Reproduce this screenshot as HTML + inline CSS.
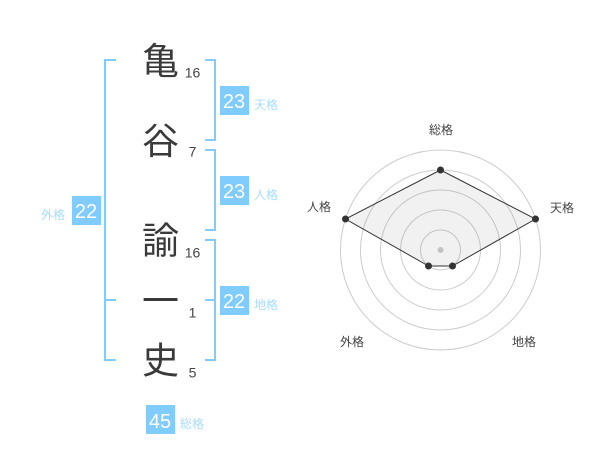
<!DOCTYPE html>
<html lang="ja"><head><meta charset="utf-8"><style>
html,body{margin:0;padding:0;background:#fff}
svg{display:block}
text{font-family:"Liberation Sans","Noto Sans CJK JP",sans-serif}
.k{font-size:37px;fill:#3a3a3a;text-anchor:middle}
.n{font-size:14px;fill:#444;text-anchor:middle}
.b{font-size:20px;fill:#fff;text-anchor:middle}
.l{font-size:12px;fill:#a8dcff;text-anchor:start}
.r{font-size:12px;fill:#444;text-anchor:middle}
</style></head><body>
<svg width="600" height="470" viewBox="0 0 600 470" xmlns="http://www.w3.org/2000/svg">
<g fill="none" stroke="#80ccff" stroke-width="2">
<path d="M116 60H105V360H116M105 300H116"/>
<path d="M205 60H215V140H205"/>
<path d="M205 150H215V230H205"/>
<path d="M205 240H215V360H205M205 300H215"/>
</g>
<text class="k" x="160.500" y="74">亀</text>
<text class="k" x="160.500" y="154">谷</text>
<text class="k" x="160.500" y="253.500">諭</text>
<text class="k" x="160.500" y="314">一</text>
<text class="k" x="160.500" y="373.500">史</text>
<text class="n" x="192.500" y="77.500">16</text>
<text class="n" x="192.500" y="156.500">7</text>
<text class="n" x="192.500" y="257.500">16</text>
<text class="n" x="192.500" y="317.500">1</text>
<text class="n" x="192.500" y="377.500">5</text>
<g fill="#80ccff">
<rect x="220" y="86" width="29" height="29"/>
<rect x="220" y="176" width="29" height="29"/>
<rect x="72" y="196" width="29" height="29"/>
<rect x="220" y="286" width="29" height="29"/>
<rect x="146" y="405" width="29" height="29"/>
</g>
<text class="b" x="234" y="108">23</text>
<text class="b" x="234" y="198">23</text>
<text class="b" x="86" y="218">22</text>
<text class="b" x="234" y="308">22</text>
<text class="b" x="160" y="428">45</text>
<text class="l" x="254" y="109">天格</text>
<text class="l" x="254" y="199">人格</text>
<text class="l" x="41" y="219">外格</text>
<text class="l" x="254" y="309">地格</text>
<text class="l" x="180" y="428">総格</text>
<g fill="none" stroke="#ccc" stroke-width="1">
<circle cx="440.500" cy="250" r="20"/>
<circle cx="440.500" cy="250" r="40"/>
<circle cx="440.500" cy="250" r="60"/>
<circle cx="440.500" cy="250" r="80"/>
<circle cx="440.500" cy="250" r="100"/>
</g>
<circle cx="440.500" cy="250" r="3" fill="#ccc"/>
<polygon points="440.500,170 535.500,219 452.500,266 428.500,266 345.500,219" fill="rgba(120,120,120,.1)" stroke="#333" stroke-width="1"/>
<g fill="#333">
<circle cx="440.500" cy="170" r="3.500"/>
<circle cx="535.500" cy="219" r="3.500"/>
<circle cx="452.500" cy="266" r="3.500"/>
<circle cx="428.500" cy="266" r="3.500"/>
<circle cx="345.500" cy="219" r="3.500"/>
</g>
<text class="r" x="441" y="134">総格</text>
<text class="r" x="562" y="212">天格</text>
<text class="r" x="319" y="211">人格</text>
<text class="r" x="352" y="346">外格</text>
<text class="r" x="524" y="346">地格</text>
</svg>
</body></html>
